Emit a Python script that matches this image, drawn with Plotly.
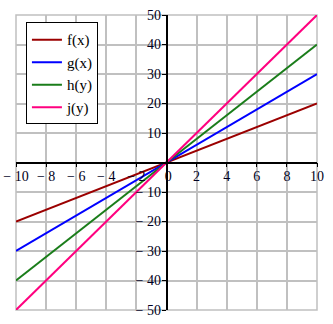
import plotly.graph_objects as go

x_vals = [-10, 0, 10]
f_vals = [-20, 0, 20]
g_vals = [-30, 0, 30]
h_vals = [-40, 0, 40]
j_vals = [-50, 0, 50]

series_names = ["f(x)", "g(x)", "h(y)", "j(y)"]
series_colors = ["#9b0000", "#0000ff", "#1a7d1a", "#ff007f"]

x_tickvals = [-10, -8, -6, -4, -2, 0, 2, 4, 6, 8, 10]
x_ticktext = ["\u2212 10", "\u2212 8", "\u2212 6", "\u2212 4", "\u2212 2", " 0", "2", "4", "6", "8", "10"]
y_tickvals = [-50, -40, -30, -20, -10, 10, 20, 30, 40, 50]
y_ticktext = ["\u2212 50", "\u2212 40", "\u2212 30", "\u2212 20", "\u2212 10", "10", "20", "30", "40", "50"]

fig = go.Figure()
for name, color, ys in zip(series_names, series_colors, [f_vals, g_vals, h_vals, j_vals]):
    fig.add_trace(go.Scatter(x=x_vals, y=ys, mode="lines", name=name,
                             line=dict(color=color, width=2)))

font_serif = "Liberation Serif, Times New Roman, serif"

fig.update_layout(
    width=333, height=324,
    margin=dict(l=16, r=16, t=15, b=14, autoexpand=False),
    paper_bgcolor="white", plot_bgcolor="white",
    font=dict(family=font_serif, size=14, color="#000020"),
    showlegend=True,
    legend=dict(x=0.033, y=0.975, xanchor="left", yanchor="top",
                bgcolor="white", bordercolor="black", borderwidth=1,
                font=dict(family=font_serif, size=15, color="black"),
                tracegroupgap=0, itemwidth=30),
    xaxis=dict(range=[-10, 10], tickvals=x_tickvals, ticktext=x_ticktext,
               showgrid=True, gridcolor="#c0c0c0", gridwidth=1.5,
               zeroline=False, showline=True, linecolor="black", linewidth=1.5,
               anchor="free", position=0.5, automargin=False,
               ticks="outside", ticklen=4, tickcolor="black", tickwidth=1,
               ticklabelstandoff=-3,
               tickfont=dict(family=font_serif, size=14)),
    yaxis=dict(range=[-50, 50], tickvals=y_tickvals, ticktext=y_ticktext,
               showgrid=True, gridcolor="#c0c0c0", gridwidth=1.5,
               zeroline=False, showline=True, linecolor="black", linewidth=1.5,
               anchor="free", position=0.5, automargin=False,
               ticks="outside", ticklen=4, tickcolor="black", tickwidth=1,
               ticklabelstandoff=-2,
               tickfont=dict(family=font_serif, size=14)),
    shapes=[dict(type="rect", xref="paper", yref="paper", x0=0, y0=0, x1=1, y1=1,
                 line=dict(color="#c0c0c0", width=1.5), layer="below")],
)

fig.write_html("out.html")
